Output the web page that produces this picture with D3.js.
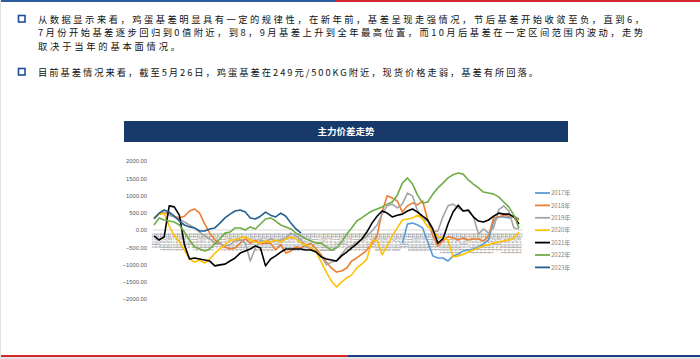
<!DOCTYPE html>
<html>
<head>
<meta charset="utf-8">
<script src="https://cdn.jsdelivr.net/npm/d3@7"></script>
<style>
  body { margin: 0; background: #fff; }
  svg { display: block; }
</style>
</head>
<body>
<svg id="page" width="700" height="359"></svg>
<script>
// ---- data ----
const seriesNames = ["2017年", "2018年", "2019年", "2020年", "2021年", "2022年", "2023年"];
const seriesColors = ["#5b9bd5", "#ed7d31", "#a5a5a5", "#ffc000", "#000000", "#70ad47", "#255e91"];
const yTicks = [2000, 1500, 1000, 500, 0, -500, -1000, -1500, -2000];
const firstDay = new Date(2021, 0, 2);  // values are read every 5 days from here
const stepDays = 5;
const labelStep = 4;                    // x labels every 4 days

// index of the first reading of each series
const seriesStart = [49, 0, 0, 0, 0, 0, 0];

const v2017 = [-380, 175, 200, 145, 60, -350, -750, -810, -810, -900, -750, -700, -610, -580,
  -550, -490, -400, -290, 260, 380, 380, 350, 400, 320];
const v2018 = [350, 460, 490, 490, 400, 350, 400, 550, 610, 490, 175, -90, -290, -380, -490, -550,
  -520, -380, -260, -380, -290, -400, -380, -380, -580, -430, -670, -610, -490, -520, -430, -400,
  -550, -720, -930, -1100, -1220, -1190, -1100, -900, -810, -700, -580, -400, -170, 520, 990, 930,
  840, 520, 700, 780, 730, 840, 290, -170, -460, -320, -200, -230, -290, -230, -290, -260, -260,
  -320, -170, 350, 380, 430, 400, 380, 290];
const v2019 = [350, 460, 520, 430, 380, 320, 230, 145, 60, -60, -170, -260, -380, -400, -460, -430,
  -320, -290, -380, -900, -520, -290, -350, -260, -320, -290, -230, -90, -170, -290, -460, -580,
  -640, -750, -1010, -930, -900, -700, -520, -460, -350, -290, -170, -30, 145, 460, 700, 750, 640,
  750, 1070, 990, 550, 320, 260, -60, -30, 380, 700, 750, 640, 550, 550, 400, -120, 30, -90, 60,
  580, 700, 550, 60, 30];
const v2020 = [350, 460, 490, 115, -170, -350, -580, -840, -930, -870, -960, -840, -670, -550,
  -430, -290, -290, -230, -200, -290, -350, -380, -320, -350, -290, -350, -260, -200, -260, -380,
  -430, -520, -640, -930, -1220, -1480, -1650, -1510, -1390, -1300, -1100, -990, -840, -320, -290,
  -720, -460, -170, 60, 290, 320, 350, 430, 320, 90, 0, -200, -230, -290, -780, -750, -700, -640,
  -580, -520, -460, -430, -380, -350, -320, -290, -230, -60];
const v2021 = [-170, -290, -200, 700, 670, 430, -430, -840, -810, -840, -870, -900, -1040, -1010,
  -990, -900, -810, -670, -610, -550, -460, -520, -1040, -840, -750, -640, -550, -550, -550, -550,
  -580, -580, -640, -780, -840, -870, -900, -750, -640, -520, -400, -260, -60, 200, 400, 550, 490,
  380, 430, 460, 550, 610, 520, 400, 290, 30, -380, -260, 175, 520, 720, 550, 580, 380, 260, 230,
  290, 400, 490, 460, 460, 380, 175];
const v2022 = [145, 350, 290, 260, 230, 145, -60, -290, -490, -550, -610, -550, -400, -260, -90,
  -60, 60, 60, 0, 90, 30, 175, 320, 350, 260, 145, 90, 30, -90, -170, -260, -320, -380, -380, -490,
  -580, -520, -350, -120, 60, 260, 350, 460, 550, 610, 670, 750, 810, 1010, 1360, 1510, 1330, 1010,
  780, 810, 1040, 1220, 1360, 1510, 1600, 1650, 1620, 1450, 1330, 1220, 1100, 1070, 1040, 960, 810,
  670, 430, 60];
const v2023 = [320, 490, 580, 520, 400, 260, 145, 90, 60, -30, -30, 30, 60, 200, 350, 460, 550,
  580, 520, 350, 320, 400, 520, 430, 380, 490, 400, 200, 30, -90];
const seriesValues = [v2017, v2018, v2019, v2020, v2021, v2022, v2023];

const para1 = [
  "从数据显示来看，鸡蛋基差明显具有一定的规律性，在新年前，基差呈现走强情况，节后基差开始收敛至负，直到6，",
  "7月份开始基差逐步回归到0值附近，到8，9月基差上升到全年最高位置，而10月后基差在一定区间范围内波动，走势",
  "取决于当年的基本面情况。"
];
const para2 = ["目前基差情况来看，截至5月26日，鸡蛋基差在249元/500KG附近，现货价格走弱，基差有所回落。"];

// ---- page ----
const svg = d3.select("#page");
const cjk = "'Microsoft YaHei', 'Noto Sans CJK SC', sans-serif";

// top and bottom rules
svg.append("rect").attr("x", 0).attr("y", 0).attr("width", 336).attr("height", 2).attr("fill", "#2d5a9b");
svg.append("rect").attr("x", 336).attr("y", 0).attr("width", 364).attr("height", 2).attr("fill", "#d7282f");
svg.append("rect").attr("x", 0).attr("y", 355).attr("width", 348).attr("height", 2).attr("fill", "#d7282f");
svg.append("rect").attr("x", 348).attr("y", 355).attr("width", 352).attr("height", 2).attr("fill", "#1f3f85");
svg.append("rect").attr("x", 0).attr("y", 357).attr("width", 700).attr("height", 2).attr("fill", "#e3e3e3");
svg.append("rect").attr("x", 0).attr("y", 0).attr("width", 1).attr("height", 359).attr("fill", "#e3e3e3");

// bullets and paragraphs
function bullet(y) {
  svg.append("rect").attr("x", 18.5).attr("y", y).attr("width", 6.5).attr("height", 6.5)
    .attr("fill", "#fff").attr("stroke", "#1f4e9a").attr("stroke-width", 1.6);
}
bullet(15.5);
bullet(68.5);

// line spacing is tight, so the glyphs are a bit smaller and spread to the full width
const txt = svg.append("g").attr("font-family", cjk).attr("font-size", 9.3).attr("fill", "#111");
const para1Width = [606, 605, 142];
para1.forEach((s, i) => {
  txt.append("text").attr("x", 38).attr("y", 22.5 + i * 13.5)
    .attr("textLength", para1Width[i]).attr("lengthAdjust", "spacing").text(s);
});
txt.append("text").attr("x", 38).attr("y", 75.5)
  .attr("textLength", 500).attr("lengthAdjust", "spacing").text(para2[0]);

// ---- chart ----
svg.append("rect").attr("x", 124).attr("y", 121).attr("width", 444).attr("height", 21).attr("fill", "#183a6b");
svg.append("text").attr("x", 346).attr("y", 134.5).attr("text-anchor", "middle")
  .attr("font-family", cjk).attr("font-size", 9.5).attr("font-weight", "bold").attr("fill", "#fff")
  .text("主力价差走势");

const x = d3.scaleTime()
  .domain([new Date(2021, 0, 1), new Date(2021, 11, 31)])
  .range([153, 522]);
const y = d3.scaleLinear().domain([-2000, 2000]).range([299, 161]);

// y axis labels
const yAxis = svg.append("g").attr("transform", "translate(150,0)")
  .call(d3.axisLeft(y).tickValues(yTicks).tickFormat(d3.format(".2f")).tickSize(0).tickPadding(3));
yAxis.select(".domain").remove();
yAxis.selectAll("text").attr("font-family", "'Liberation Sans', Arial, sans-serif")
  .attr("font-size", 5.8).attr("fill", "#595959");

// x axis on zero line, rotated date labels
const xDates = d3.timeDay.range(firstDay, new Date(2022, 0, 1), labelStep);
const xAxis = svg.append("g").attr("transform", `translate(0,${y(0)})`)
  .call(d3.axisBottom(x).tickValues(xDates).tickFormat(d3.timeFormat("%-m月%-d日")).tickSize(0));
xAxis.select(".domain").attr("stroke", "#d9d9d9").attr("stroke-width", 1)
  .attr("d", `M${x.range()[0]},0H${x.range()[1] + 1}`);
xAxis.selectAll("text")
  .attr("font-family", cjk).attr("font-size", 5).attr("fill", "#8c8c8c")
  .attr("transform", "rotate(-90)")
  .attr("text-anchor", "end")
  .attr("x", -3).attr("y", 0).attr("dy", "0.35em");

// lines
const dayOf = i => d3.timeDay.offset(firstDay, i * stepDays);
seriesValues.forEach((vals, s) => {
  const pts = vals.map((v, i) => [dayOf(i + seriesStart[s]), v]);
  const line = d3.line().x(d => x(d[0])).y(d => y(d[1]));
  svg.append("path")
    .attr("d", line(pts))
    .attr("fill", "none")
    .attr("stroke", seriesColors[s])
    .attr("stroke-width", 1.6)
    .attr("stroke-linejoin", "round");
});

// legend
const legend = svg.append("g").attr("font-family", cjk).attr("font-size", 6).attr("fill", "#7f7f7f");
seriesNames.forEach((name, i) => {
  const ly = 193 + i * 12.4;
  legend.append("line").attr("x1", 535).attr("x2", 550).attr("y1", ly).attr("y2", ly)
    .attr("stroke", seriesColors[i]).attr("stroke-width", 1.8);
  legend.append("text").attr("x", 551).attr("y", ly + 2.2).text(name);
});
</script>
</body>
</html>
